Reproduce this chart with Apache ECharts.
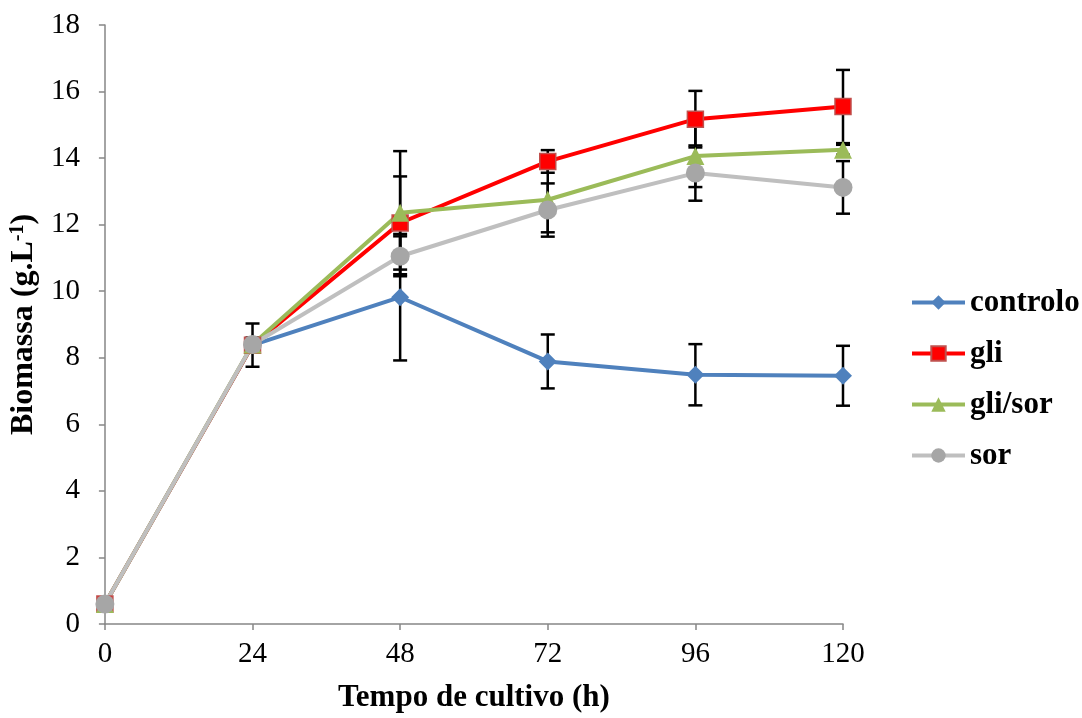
<!DOCTYPE html>
<html>
<head>
<meta charset="utf-8">
<script src="https://cdn.jsdelivr.net/npm/echarts@6/dist/echarts.min.js"></script>
<style>
  html, body { margin: 0; padding: 0; background: #fff; }
  #chart { width: 1082px; height: 718px; }
</style>
</head>
<body>
<div id="chart"></div>
<script>
// tempo de cultivo (h)
var hours = [0, 24, 48, 72, 96, 120];

// biomassa (g/L) por tratamento
var controlo = [0.6, 8.38, 9.82, 7.89, 7.49, 7.46];
var gli      = [0.6, 8.38, 12.05, 13.9, 15.17, 15.55];
var gliSor   = [0.6, 8.4, 12.36, 12.75, 14.06, 14.25];
var sor      = [0.6, 8.4, 11.05, 12.44, 13.55, 13.12];

// desvio padrao (barras de erro)
var errControlo = [0.05, 0.65, 1.9, 0.81, 0.92, 0.9];
var errGli      = [0.05, 0.2, 1.4, 0.34, 0.85, 1.1];
var errGliSor   = [0.05, 0.2, 1.85, 0.98, 0.93, 0.15];
var errSor      = [0.05, 0.2, 0.6, 0.8, 0.83, 0.79];

var serif = '"Liberation Serif", "Times New Roman", serif';

function errData(vals, errs) {
    return hours.map(function (h, i) {
        return [h, vals[i] - errs[i], vals[i] + errs[i]];
    });
}

function renderErr(params, api) {
    var x = api.value(0);
    var top = api.coord([x, api.value(2)]);
    var bot = api.coord([x, api.value(1)]);
    var w = 7;
    var st = { stroke: '#000', lineWidth: 2.5 };
    return {
        type: 'group',
        children: [
            { type: 'line', shape: { x1: top[0], y1: top[1], x2: bot[0], y2: bot[1] }, style: st },
            { type: 'line', shape: { x1: top[0] - w, y1: top[1], x2: top[0] + w, y2: top[1] }, style: st },
            { type: 'line', shape: { x1: bot[0] - w, y1: bot[1], x2: bot[0] + w, y2: bot[1] }, style: st }
        ]
    };
}

function errSeries(vals, errs) {
    return {
        type: 'custom',
        renderItem: renderErr,
        data: errData(vals, errs),
        encode: { x: 0, y: [1, 2] },
        z: 1,
        silent: true
    };
}

function lineSeries(name, vals, color, symbol, size, itemStyle) {
    return {
        name: name,
        type: 'line',
        data: hours.map(function (h, i) { return [h, vals[i]]; }),
        symbol: symbol,
        symbolSize: size,
        showAllSymbol: true,
        lineStyle: { color: color, width: 4 },
        itemStyle: itemStyle,
        z: 3
    };
}

var chart = echarts.init(document.getElementById('chart'));

var option = {
    animation: false,
    backgroundColor: '#fff',
    grid: { left: 103, right: 239, top: 25, bottom: 93 },
    legend: {
        orient: 'vertical',
        left: 905,
        top: 282,
        itemWidth: 53,
        itemHeight: 18,
        itemGap: 20,
        lineStyle: { width: 4 },
        textStyle: { fontFamily: serif, fontSize: 31, fontWeight: 'bold', color: '#000', lineHeight: 31 },
        data: ['controlo', 'gli', 'gli/sor', 'sor']
    },
    xAxis: {
        type: 'value',
        min: 0,
        max: 120,
        interval: 24,
        name: 'Tempo de cultivo (h)',
        nameLocation: 'middle',
        nameGap: 58,
        nameTextStyle: { fontFamily: serif, fontSize: 31, fontWeight: 'bold', color: '#000' },
        axisLine: { lineStyle: { color: '#868686', width: 1.5 } },
        axisTick: { show: true, length: 6, lineStyle: { color: '#868686', width: 1.5 } },
        axisLabel: { fontFamily: serif, fontSize: 29, color: '#000', margin: 16 },
        splitLine: { show: false }
    },
    yAxis: {
        type: 'value',
        min: 0,
        max: 18,
        interval: 2,
        name: '{a|Biomassa (g.L}{s|-1}{a|)}',
        nameLocation: 'middle',
        nameGap: 60,
        nameTextStyle: {
            rich: {
                a: { fontFamily: serif, fontSize: 32, fontWeight: 'bold', color: '#000' },
                s: { fontFamily: serif, fontSize: 20, fontWeight: 'bold', color: '#000', verticalAlign: 'top', padding: [0, 0, 12, 0] }
            }
        },
        axisLine: { show: true, lineStyle: { color: '#868686', width: 1.5 } },
        axisTick: { show: true, length: 6, lineStyle: { color: '#868686', width: 1.5 } },
        axisLabel: { fontFamily: serif, fontSize: 29, color: '#000', margin: 25 },
        splitLine: { show: false }
    },
    series: [
        errSeries(controlo, errControlo),
        errSeries(gli, errGli),
        errSeries(gliSor, errGliSor),
        errSeries(sor, errSor),
        lineSeries('controlo', controlo, '#4f81bd', 'diamond', 18, { color: '#4f81bd' }),
        lineSeries('gli', gli, '#ff0000', 'rect', 16, { color: '#ff0000', borderColor: '#c0504d', borderWidth: 1.5 }),
        lineSeries('gli/sor', gliSor, '#9bbb59', 'triangle', 18, { color: '#9bbb59' }),
        lineSeries('sor', sor, '#bfbfbf', 'circle', 19, { color: '#a6a6a6' })
    ]
};

chart.setOption(option);
</script>
</body>
</html>
